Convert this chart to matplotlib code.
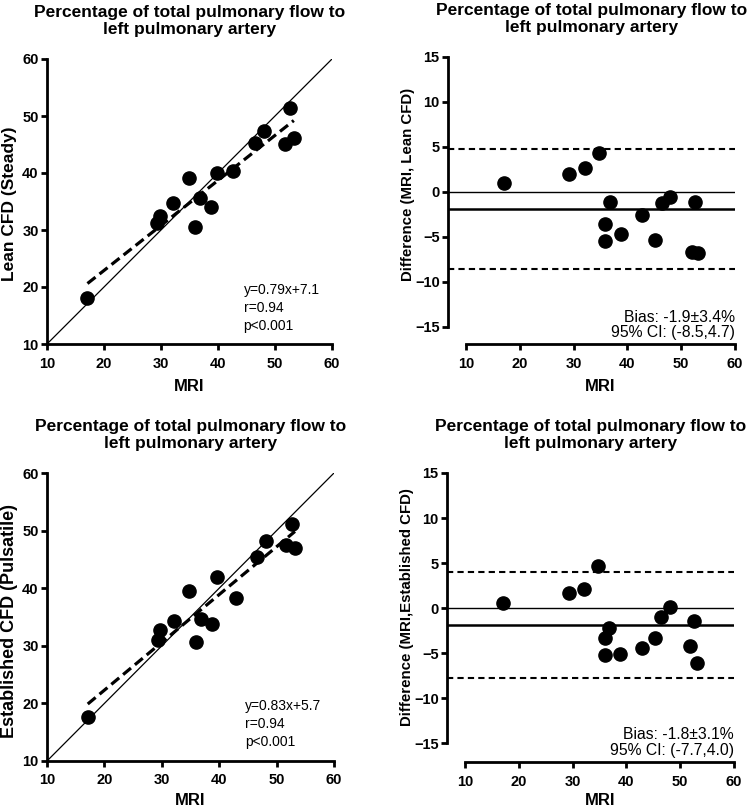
import matplotlib
matplotlib.use("Agg")
import matplotlib.pyplot as plt
import numpy as np

plt.rcParams['font.family'] = ['Liberation Sans', 'DejaVu Sans']

TITLE = "Percentage of total pulmonary flow to\nleft pulmonary artery"

# Panel A: Lean CFD (Steady) vs MRI
mri_a = [17.1, 29.3, 29.8, 32.1, 34.9, 36.0, 36.8, 38.8, 39.8, 42.7, 46.5, 48.0, 51.8, 52.6, 53.3]
lean = [18.1, 31.3, 32.4, 34.7, 39.1, 30.5, 35.6, 34.1, 40.0, 40.3, 45.25, 47.3, 45.1, 51.4, 46.2]
fit_a = (0.79, 7.1)

# Panel B: Bland-Altman, Lean CFD
mri_b = [17.1, 29.2, 32.1, 34.8, 36.8, 35.9, 35.9, 38.75, 42.8, 45.2, 46.4, 48.0, 52.6, 52.0, 53.2]
diff_b = [1.03, 2.0, 2.62, 4.29, -1.15, -3.58, -5.43, -4.69, -2.55, -5.32, -1.18, -0.59, -1.15, -6.65, -6.8]
bias_b, lo_b, hi_b = -1.9, -8.6, 4.75

# Panel C: Established CFD (Pulsatile) vs MRI
mri_c = [17.1, 29.3, 29.7, 32.1, 34.7, 36.0, 36.8, 38.8, 39.7, 42.85, 46.5, 48.1, 51.7, 52.6, 53.2]
est = [17.7, 31.0, 32.7, 34.3, 39.6, 30.6, 34.7, 33.8, 41.9, 38.3, 45.5, 48.2, 47.5, 51.1, 47.0]
fit_c = (0.83, 5.7)

# Panel D: Bland-Altman, Established CFD
mri_d = [17.1, 29.3, 32.1, 34.75, 36.8, 36.0, 36.0, 38.9, 42.9, 45.3, 46.5, 48.1, 52.5, 51.8, 53.2]
diff_d = [0.59, 1.63, 2.15, 4.72, -2.19, -3.38, -5.24, -5.05, -4.42, -3.38, -0.97, 0.15, -1.45, -4.23, -6.05]
bias_d, lo_d, hi_d = -1.85, -7.75, 3.97

ticks_xy = [10, 20, 30, 40, 50, 60]
ticks_diff = [-15, -10, -5, 0, 5, 10, 15]

W, H = 749, 809
fig = plt.figure(figsize=(W / 100, H / 100), dpi=100)

def fr(x0, y0, x1, y1):
    return [x0 / W, 1 - y1 / H, (x1 - x0) / W, (y1 - y0) / H]

SPW = 2.0
TICKFS = 10.5
TITFS = 12.5
MS = 9.5

def style(ax):
    for s in ['top', 'right']:
        ax.spines[s].set_visible(False)
    for s in ['left', 'bottom']:
        ax.spines[s].set_linewidth(SPW)
    ax.tick_params(axis='both', width=SPW, length=4.5, labelsize=TICKFS)
    ax.tick_params(axis='x', pad=4.5)
    ax.tick_params(axis='y', pad=1.5)
    for lab in ax.get_xticklabels() + ax.get_yticklabels():
        lab.set_fontweight('bold')

def labels(ax, rect, ylabel, ylabfs, xcenter_px, ylab_right_px, ylab_center_px, mri_top_px):
    x0, y0, x1, y1 = rect
    w, h = x1 - x0, y1 - y0
    ax.set_ylabel(ylabel, fontsize=ylabfs, fontweight='bold')
    ax.yaxis.set_label_coords((ylab_right_px - x0) / w, (y1 - ylab_center_px) / h)
    ax.set_xlabel('MRI', fontsize=12, fontweight='bold')
    ax.xaxis.set_label_coords((xcenter_px - x0) / w, -(mri_top_px - y1) / h)
    ax.set_title(TITLE, fontsize=TITFS, fontweight='bold', pad=18, linespacing=1.15)

def scatter_panel(rect, x, y, fit, ylabel, ylabfs, ylab_right, ylab_center, txt, mri_top):
    ax = fig.add_axes(fr(*rect))
    ax.set_xlim(10, 60)
    ax.set_ylim(10, 60)
    ax.plot([10, 60], [10, 60], color='black', lw=0.9, zorder=1)
    xs = np.array([min(x), max(x)])
    ax.plot(xs, fit[0] * xs + fit[1], color='black', lw=2.3, dashes=(3.2, 1.6), zorder=2)
    ax.plot(x, y, 'o', color='black', ms=MS, zorder=3, clip_on=False)
    ax.set_xticks(ticks_xy)
    ax.set_yticks(ticks_xy)
    style(ax)
    x0, y0, x1, y1 = rect
    labels(ax, rect, ylabel, ylabfs, (x0 + x1) / 2, ylab_right, ylab_center, mri_top)
    ax.text(0.69, 0.215, txt, transform=ax.transAxes, fontsize=10, va='top', ha='left', linespacing=1.38)
    return ax

def ba_panel(rect, ylim_low, x, d, bias, lo, hi, ylabel, txt, mri_top, ylab_center):
    ax = fig.add_axes(fr(*rect))
    ax.set_xlim(6.65, 60)
    ax.set_ylim(ylim_low, 15)
    ax.spines['bottom'].set_bounds(10, 60)
    ax.spines['left'].set_bounds(-15, 15)
    ax.axhline(0, color='black', lw=1.0, zorder=1)
    ax.axhline(bias, color='black', lw=1.8, zorder=1)
    ax.axhline(hi, color='black', lw=1.5, dashes=(3, 2), zorder=1)
    ax.axhline(lo, color='black', lw=1.5, dashes=(3, 2), zorder=1)
    ax.plot(x, d, 'o', color='black', ms=MS, zorder=3)
    ax.set_xticks(ticks_xy)
    ax.set_yticks(ticks_diff)
    style(ax)
    x0, y0, x1, y1 = rect
    labels(ax, rect, ylabel, 10.8, 600, x0 - 33, ylab_center, mri_top)
    ax.text(1.0, 0.12, txt, transform=ax.transAxes, fontsize=11.3, va='top', ha='right', linespacing=1.05)
    return ax

scatter_panel((47, 59, 332, 344), mri_a, lean, fit_a, 'Lean CFD (Steady)', 12.5, 17, 204,
              'y=0.79x+7.1\nr=0.94\np<0.001', 379)
ba_panel((448, 57, 735, 344), -16.9, mri_b, diff_b, bias_b, lo_b, hi_b,
         'Difference (MRI, Lean CFD)', 'Bias: -1.9\u00b13.4%\n95% CI: (-8.5,4.7)', 379, 184)
scatter_panel((47, 473, 334, 761), mri_c, est, fit_c, 'Established CFD (Pulsatile)', 13, 18, 621,
              'y=0.83x+5.7\nr=0.94\np<0.001', 793)
ba_panel((447, 473, 734, 762), -17.1, mri_d, diff_d, bias_d, lo_d, hi_d,
         'Difference (MRI,Established CFD)', 'Bias: -1.8\u00b13.1%\n95% CI: (-7.7,4.0)', 793, 607)

fig.savefig('out.png', dpi=100)
